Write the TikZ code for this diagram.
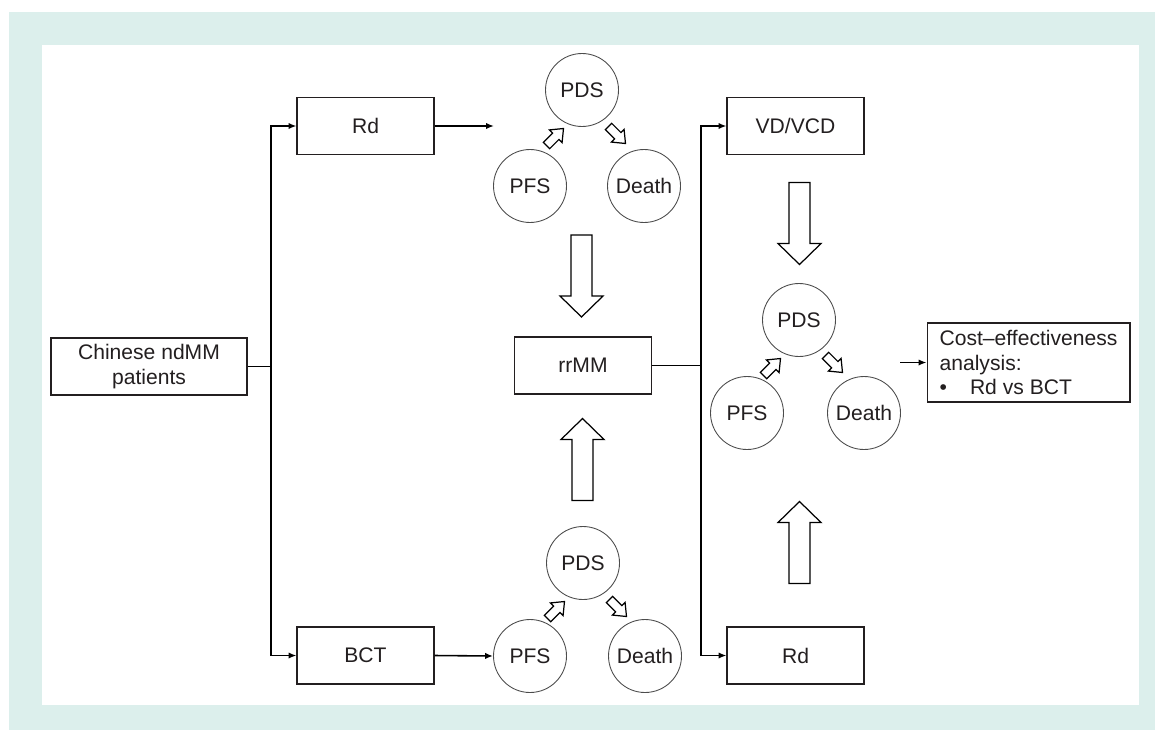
\documentclass[tikz,border=0pt]{standalone}
\usepackage{fontspec}
\setmainfont{Liberation Sans}
\usetikzlibrary{arrows.meta}
\definecolor{panelbg}{RGB}{220,239,236}
\definecolor{inkgray}{RGB}{35,31,32}

\begin{document}
\begin{tikzpicture}[x=0.02cm, y=-0.02cm,
    font=\fontsize{12}{14}\selectfont, text=inkgray,
    box/.style={draw=inkgray, line width=0.6pt, minimum width=2.74cm, minimum height=1.14cm, inner sep=0pt, align=center},
    state/.style={circle, draw=black!70, line width=0.5pt, minimum size=1.46cm, inner sep=0pt},
    conn/.style={draw=black, line width=0.9pt},
    tip/.style={-{Latex[length=4.5pt,width=3.6pt]}},
    blockline/.style={draw=black, line width=0.7pt, fill=white, line join=miter},
    bigarrow/.pic={\path[blockline] (-41,-10.5) -- (20,-10.5) -- (20,-21.5) -- (41,0) -- (20,21.5) -- (20,10.5) -- (-41,10.5) -- cycle;},
    smallarrow/.pic={\path[blockline] (-12,-4.5) -- (1,-4.5) -- (1,-9) -- (12,0) -- (1,9) -- (1,4.5) -- (-12,4.5) -- cycle;}]
    \useasboundingbox (0,0) rectangle (1155,730);

    % Panel
    \fill[panelbg] (9,12) rectangle (1155,730);
    \fill[white] (42,45) rectangle (1139,705);

    % Patients
    \node[box, minimum width=3.92cm] (chin) at (149,366.5) {Chinese ndMM\\patients};

    % First line treatments
    \node[box] (rd1) at (365.5,126) {Rd};
    \node[box] (bct) at (365.5,655.5) {BCT};

    % Rd states
    \node[state] (pds1) at (582,90) {PDS};
    \node[state] (pfs1) at (530,186) {PFS};
    \node[state] (dth1) at (644,186) {Death};
    \pic[rotate=45] at (555,137) {smallarrow};
    \pic[rotate=-45] at (617,135) {smallarrow};

    % BCT states
    \node[state] (pds2) at (583,563) {PDS};
    \node[state] (pfs2) at (530,656) {PFS};
    \node[state] (dth2) at (645,656) {Death};
    \pic[rotate=45] at (556,610) {smallarrow};
    \pic[rotate=-45] at (618,608) {smallarrow};

    % Relapse
    \node[box] (rr) at (583,365.5) {rrMM};
    \pic[rotate=-90] at (581.5,276) {bigarrow};
    \pic[rotate=90] at (582.5,459.5) {bigarrow};

    % Second line treatments
    \node[box] (vd) at (795.5,126) {VD/VCD};
    \node[box] (rd2) at (795.5,655.5) {Rd};
    \pic[rotate=-90] at (799.5,223.5) {bigarrow};
    \pic[rotate=90] at (799.5,542.5) {bigarrow};

    % Second line states
    \node[state] (pds3) at (799,320) {PDS};
    \node[state] (pfs3) at (747,413) {PFS};
    \node[state] (dth3) at (864,413) {Death};
    \pic[rotate=45] at (772,367) {smallarrow};
    \pic[rotate=-45] at (834,364) {smallarrow};

    % Analysis
    \node[draw=inkgray, line width=0.6pt, minimum width=4.06cm, minimum height=1.58cm, align=left] (cea) at (1028.5,362.5)
        {Cost--effectiveness\\analysis:\\\textbullet\hspace{0.46cm}Rd vs BCT};

    % Connections
    \coordinate (fork1) at (271,366.5);
    \draw[conn] (chin.east) -- (fork1);
    \draw[conn, tip] (fork1) |- (rd1.west);
    \draw[conn, tip] (fork1) |- (bct.west);
    \coordinate (rdout) at (494,126);
    \draw[conn, tip] (rd1.east) -- (rdout);
    \draw[conn, tip] (bct.east) -- (pfs2.west);

    \coordinate (fork2) at (701,365.5);
    \draw[conn] (rr.east) -- (fork2);
    \draw[conn, tip] (fork2) |- (vd.west);
    \draw[conn, tip] (fork2) |- (rd2.west);

    \coordinate (ceain) at (900,362.5);
    \draw[conn, tip] (ceain) -- (cea.west);

\end{tikzpicture}
\end{document}
